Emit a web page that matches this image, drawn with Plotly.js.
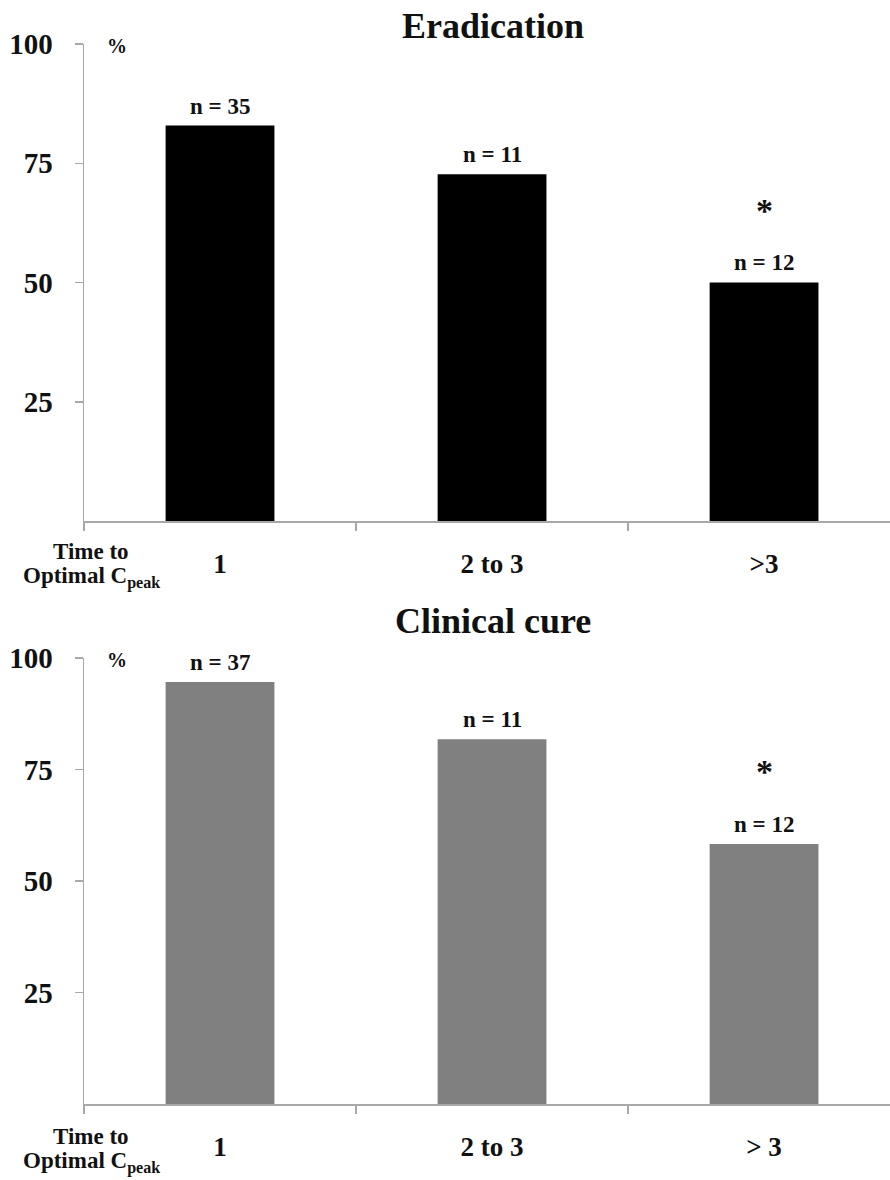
<!DOCTYPE html>
<html>
<head>
<meta charset="utf-8">
<script src="https://cdn.plot.ly/plotly-3.0.1.min.js"></script>
<style>
  html, body { margin: 0; padding: 0; background: #fff; }
  #chart { width: 890px; height: 1180px; }
</style>
</head>
<body>
<div id="chart"></div>
<script>
// ---- data ----
const categoriesTop = ['1', '2 to 3', '>3'];
const categoriesBottom = ['1', '2 to 3', '> 3'];
const eradicationPct = [82.9, 72.7, 50.0];
const clinicalCurePct = [94.6, 81.8, 58.3];
const eradicationN = [35, 11, 12];
const clinicalCureN = [37, 11, 12];
const significant = [false, false, true];
const yTickVals = [25, 50, 75, 100];
const yTickText = ['25', '50', '75', '100'];
const panelTitles = ['Eradication', 'Clinical cure'];

// ---- styling ----
const FONT = 'Liberation Serif, Times New Roman, serif';
const AXIS_COLOR = '#a8a8a8';
const H = 1180, W = 890, L = 84;
const py = px => 1 - px / H;
const pxX = px => (px - L) / (W - L);

const traces = [
  { type: 'bar', x: categoriesTop, y: eradicationPct, xaxis: 'x', yaxis: 'y',
    marker: { color: '#000000' }, width: 0.4, hoverinfo: 'skip' },
  { type: 'bar', x: categoriesBottom, y: clinicalCurePct, xaxis: 'x2', yaxis: 'y2',
    marker: { color: '#808080' }, width: 0.4, hoverinfo: 'skip' }
];

function xAxis(anchor) {
  return {
    anchor: anchor, domain: [0, 1], type: 'category',
    range: [-0.5, 2.463],
    showline: true, linecolor: AXIS_COLOR, linewidth: 1.5,
    ticks: 'outside', tickson: 'boundaries', ticklen: 8, tickcolor: AXIS_COLOR, tickwidth: 1.5,
    ticklabelstandoff: 18,
    tickfont: { family: FONT, size: 27, color: '#111', weight: 'bold' },
    showgrid: false, zeroline: false, fixedrange: true
  };
}
function yAxis(anchor, domain) {
  return {
    anchor: anchor, domain: domain, range: [0, 100],
    tickmode: 'array', tickvals: yTickVals, ticktext: yTickText,
    showline: true, linecolor: AXIS_COLOR, linewidth: 1.5,
    ticks: 'outside', ticklen: 8, tickcolor: AXIS_COLOR, tickwidth: 1.5,
    ticklabelstandoff: 16,
    tickfont: { family: FONT, size: 29, color: '#111', weight: 'bold' },
    showgrid: false, zeroline: false, fixedrange: true
  };
}

const annotations = [];
const panels = [
  { cats: categoriesTop, vals: eradicationPct, ns: eradicationN, xr: 'x', yr: 'y',
    title: panelTitles[0], titleY: 26, pctY: 46, axisLabY: [551, 577] },
  { cats: categoriesBottom, vals: clinicalCurePct, ns: clinicalCureN, xr: 'x2', yr: 'y2',
    title: panelTitles[1], titleY: 621, pctY: 660, axisLabY: [1136, 1162] }
];
panels.forEach(p => {
  annotations.push({ xref: 'paper', yref: 'paper', x: pxX(493), y: py(p.titleY),
    xanchor: 'center', yanchor: 'middle', showarrow: false, text: '<b>' + p.title + '</b>',
    font: { family: FONT, size: 36, color: '#111' } });
  annotations.push({ xref: 'paper', yref: 'paper', x: pxX(117), y: py(p.pctY),
    xanchor: 'center', yanchor: 'middle', showarrow: false, text: '<b>%</b>',
    font: { family: FONT, size: 20, color: '#111' } });
  annotations.push({ xref: 'paper', yref: 'paper', x: pxX(91), y: py(p.axisLabY[0]),
    xanchor: 'center', yanchor: 'middle', showarrow: false, text: '<b>Time to</b>',
    font: { family: FONT, size: 23, color: '#111' } });
  annotations.push({ xref: 'paper', yref: 'paper', x: pxX(91), y: py(p.axisLabY[1]),
    xanchor: 'center', yanchor: 'middle', showarrow: false,
    text: '<b>Optimal C<sub>peak</sub></b>',
    font: { family: FONT, size: 23, color: '#111' } });
  p.cats.forEach((c, i) => {
    annotations.push({ xref: p.xr, yref: p.yr, x: i, y: p.vals[i],
      xanchor: 'center', yanchor: 'bottom', yshift: 5, showarrow: false,
      text: '<b>n = ' + p.ns[i] + '</b>',
      font: { family: FONT, size: 23, color: '#111' } });
    if (significant[i]) {
      annotations.push({ xref: p.xr, yref: p.yr, x: i, y: p.vals[i],
        xanchor: 'center', yanchor: 'middle', yshift: 72, showarrow: false,
        text: '<b>*</b>', font: { family: FONT, size: 34, color: '#111' } });
    }
  });
});

const layout = {
  width: W, height: H,
  margin: { l: L, r: 0, t: 0, b: 0 },
  paper_bgcolor: '#ffffff', plot_bgcolor: '#ffffff',
  showlegend: false,
  bargap: 0.6,
  xaxis: xAxis('y'),
  yaxis: yAxis('x', [py(521), py(44)]),
  xaxis2: xAxis('y2'),
  yaxis2: yAxis('x2', [py(1104), py(658)]),
  annotations: annotations
};

Plotly.newPlot('chart', traces, layout, { staticPlot: true, displayModeBar: false });
</script>
</body>
</html>
